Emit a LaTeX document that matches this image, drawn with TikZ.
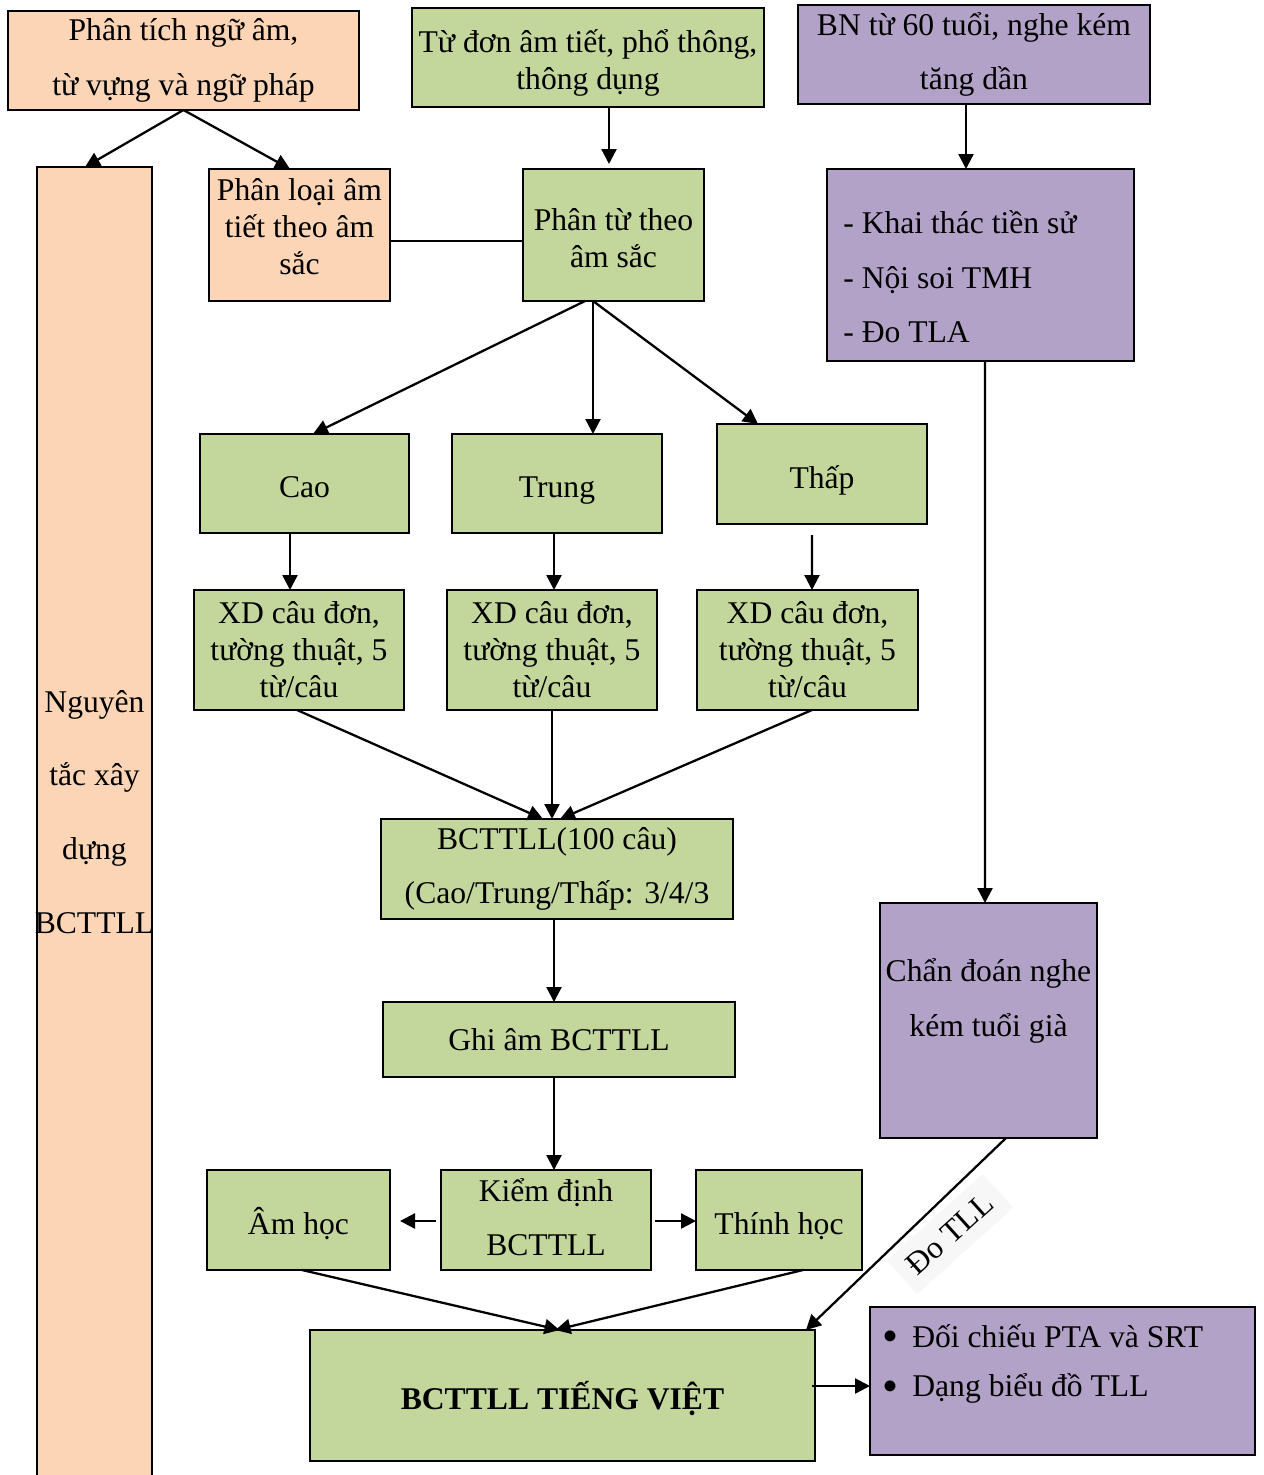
\documentclass[tikz,border=0pt]{standalone}
\usepackage{fontspec}
\setmainfont{Liberation Serif}
\usetikzlibrary{arrows.meta,calc}
\definecolor{peach}{HTML}{FBD5B5}
\definecolor{leaf}{HTML}{C3D69B}
\definecolor{lilac}{HTML}{B2A2C7}
\newcommand\bigbul{\makebox[0.6cm][l]{\raisebox{-2.5pt}{\fontsize{26}{28}\selectfont•}}}
\tikzset{
  box/.style={draw=black, line width=1.2pt, inner sep=0pt, outer sep=0pt, align=center, font=\fontsize{18}{21}\selectfont},
  loose/.style={font=\fontsize{18}{31}\selectfont},
  one/.style={text height=16pt, text depth=0pt},
  sz/.style 2 args={minimum width=#1*0.02cm, minimum height=#2*0.02cm},
  arr/.style={line width=1.3pt, -{Triangle[length=0.3cm,width=0.3cm]}},
  conn/.style={line width=1.3pt},
  plain/.style={inner sep=0pt, align=left}
}
\begin{document}
\begin{tikzpicture}[x=0.02cm, y=-0.02cm]
\useasboundingbox (0,0) rectangle (1264,1475);
\begin{scope}
\clip (0,0) rectangle (1264,1475);
% left column
\node[box, fill=peach, loose, sz={351}{99}] (pt) at (183.5,60.5) {Phân tích ngữ âm,\\từ vựng và ngữ pháp};
\node[box, fill=peach, sz={115}{1313}] (ng) at (94.5,823.5) {};
\node[plain, align=center, font=\fontsize{18}{42}\selectfont] (ngt) at (94.5,812) {Nguyên\\tắc xây\\dựng\\BCTTLL};
\node[box, fill=peach, sz={181}{132}] (pl) at (299.5,235) {};
\node[plain, align=center, font=\fontsize{18}{21}\selectfont] (plt) at (299.5,227) {Phân loại âm\\tiết theo âm\\sắc};
% middle column
\node[box, fill=leaf, sz={352}{99}] (td) at (588,57.5) {};
\node[plain, align=center, font=\fontsize{18}{21}\selectfont] (tdt) at (588,63) {Từ đơn âm tiết, phổ thông,\\thông dụng};
\node[box, fill=leaf, sz={181}{132}] (ptu) at (613.5,235) {};
\node[plain, align=center, font=\fontsize{18}{21}\selectfont] (ptut) at (613.5,238) {Phân từ theo\\âm sắc};
\node[box, fill=leaf, one, sz={209}{99}] (cao) at (304.5,483.5) {Cao};
\node[box, fill=leaf, one, sz={210}{99}] (trung) at (557,483.5) {Trung};
\node[box, fill=leaf, one, sz={210}{100}] (thap) at (822,474) {Thấp};
\node[box, fill=leaf, sz={210}{120}] (xda) at (299,650) {XD câu đơn,\\tường thuật, 5\\từ/câu};
\node[box, fill=leaf, sz={210}{120}] (xdb) at (552,650) {XD câu đơn,\\tường thuật, 5\\từ/câu};
\node[box, fill=leaf, sz={221}{120}] (xdc) at (807.5,650) {XD câu đơn,\\tường thuật, 5\\từ/câu};
\node[box, fill=leaf, loose, sz={352}{100}] (bct) at (557,869) {BCTTLL(100 câu)\\(Cao/Trung/Thấp: 3/4/3};
\node[box, fill=leaf, sz={352}{75}] (ghi) at (559,1039.5) {Ghi âm BCTTLL};
\node[box, fill=leaf, one, sz={183}{100}] (amhoc) at (298.5,1220) {Âm học};
\node[box, fill=leaf, sz={210}{100}] (kd) at (546,1220) {};
\node[plain, align=center, font=\fontsize{18}{31}\selectfont] (kdt) at (546,1217) {Kiểm định\\BCTTLL};
\node[box, fill=leaf, one, sz={166}{100}] (thinh) at (779,1220) {Thính học};
\node[box, fill=leaf, one, sz={505}{131}, font=\fontsize{18}{21}\selectfont\bfseries] (tv) at (562.5,1395.5) {BCTTLL TIẾNG VIỆT};
% right column
\node[box, fill=lilac, loose, sz={352}{99}] (bn) at (974,54.5) {BN từ 60 tuổi, nghe kém\\tăng dần};
\node[box, fill=lilac, sz={307}{192}] (kt) at (980.5,265) {};
\node[plain, anchor=west, font=\fontsize{18}{31}\selectfont] (ktt) at (843,277) {- Khai thác tiền sử\\- Nội soi TMH\\- Đo TLA};
\node[box, fill=lilac, sz={217}{235}] (cd) at (988.5,1020.5) {};
\node[plain, align=center, font=\fontsize{18}{31}\selectfont] (cdt) at (988.5,1001) {Chẩn đoán nghe\\kém tuổi già};
\node[box, fill=lilac, sz={385}{148}] (bul) at (1062.5,1381) {};
\node[plain, anchor=west, font=\fontsize{18}{28}\selectfont] (bult) at (882,1364) {\bigbul Đối chiếu PTA và SRT\\\bigbul Dạng biểu đồ TLL};
\node[rotate=42, font=\fontsize{18}{21}\selectfont, fill=black!3, inner sep=7pt] (dotll) at (950,1234) {Đo TLL};
% connectors
\draw[arr] (pt.south) -- ($(ng.north)+(-9.5,0)$);
\draw[arr] (pt.south) -- ($(pl.north)+(-9.5,0)$);
\draw[conn] ($(pl.east)+(0,6)$) -- ($(ptu.west)+(0,6)$);
\draw[arr] ($(td.south)+(21,0)$) -- ($(ptu.north)+(-4.5,-5)$);
\draw[arr] ($(ptu.south)+(-28.5,0)$) -- ($(cao.north)+(8.5,0)$);
\draw[arr] ($(ptu.south)+(-20.5,0)$) -- ($(trung.north)+(36,0)$);
\draw[arr] ($(ptu.south)+(-20.5,0)$) -- ($(thap.north)+(-64,0)$);
\draw[arr] ($(cao.south)+(-14.5,0)$) -- ($(xda.north)+(-9,0)$);
\draw[arr] ($(trung.south)+(-3,0)$) -- ($(xdb.north)+(2,0)$);
\draw[arr] ($(thap.south)+(-10,11)$) -- ($(xdc.north)+(4.5,0)$);
\draw[arr] ($(xda.south)+(-2,0)$) -- ($(bct.north)+(-14,0)$);
\draw[arr] (xdb.south) -- ($(bct.north)+(-5,0)$);
\draw[arr] ($(xdc.south)+(4.5,0)$) -- ($(bct.north)+(3,0)$);
\draw[arr] ($(bct.south)+(-3,0)$) -- ($(ghi.north)+(-5,0)$);
\draw[arr] ($(ghi.south)+(-5,0)$) -- ($(kd.north)+(8,0)$);
\draw[arr] ($(kd.west)+(-5,1)$) -- ($(amhoc.east)+(10,1)$);
\draw[arr] ($(kd.east)+(4,1)$) -- ($(thinh.west)+(0,1)$);
\draw[arr] ($(amhoc.south)+(3.5,0)$) -- ($(tv.north)+(-3,0)$);
\draw[arr] ($(thinh.south)+(24,0)$) -- ($(tv.north)+(-7,0)$);
\draw[arr] ($(bn.south)+(-8,0)$) -- ($(kt.north)+(-14.5,0)$);
\draw[arr] ($(kt.south)+(4.5,0)$) -- ($(cd.north)+(-3.5,0)$);
\draw[arr] ($(cd.south)+(17.5,0)$) -- ($(tv.north east)+(-9,0)$);
\draw[arr] ($(tv.east)+(-3,-9.5)$) -- ($(bul.west)+(0,5)$);
\end{scope}
\end{tikzpicture}
\end{document}
